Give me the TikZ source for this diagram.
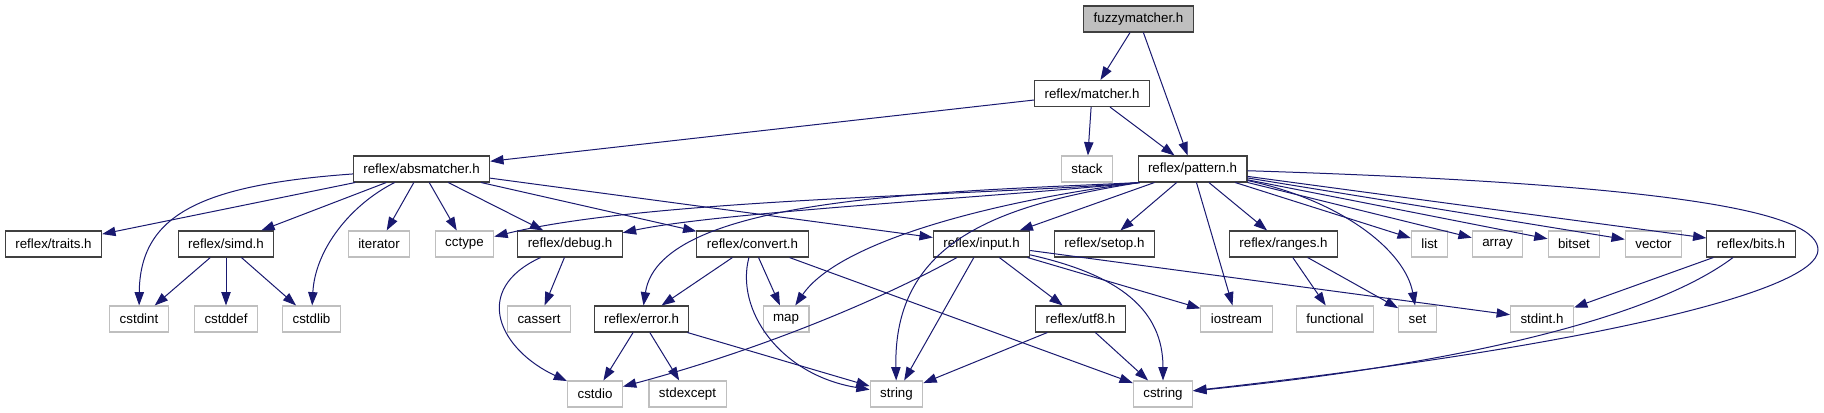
\documentclass[tikz,border=0pt]{standalone}
\usepackage{fontspec}
\usepackage{tikz}
\usetikzlibrary{arrows.meta,calc}
\newfontfamily\helvfont{Liberation Sans}
\definecolor{edgeblue}{RGB}{25,25,112}
\definecolor{rootfill}{RGB}{191,191,191}
\definecolor{extdraw}{RGB}{191,191,191}
\definecolor{docdraw}{RGB}{64,64,64}

\begin{document}
\begin{tikzpicture}[x=0.75pt,y=-0.75pt,
    every node/.style={font=\helvfont\fontsize{10}{12}\selectfont},
    filebox/.style={rectangle,inner xsep=7.5pt,inner ysep=0pt,minimum height=19.5pt,line width=0.8pt},
    hdr/.style={filebox,draw=docdraw,fill=white},
    ext/.style={filebox,draw=extdraw,fill=white},
    root/.style={filebox,draw=docdraw,fill=rootfill},
    dep/.style={draw=edgeblue,line width=0.75pt,-{Triangle[length=10pt,width=7pt]}}]
        \useasboundingbox[fill=white] (0,0) rectangle (1824,413);
        \node[root] (fuzzy) at (1138.5,19) {fuzzymatcher.h};
        \node[hdr] (matcher) at (1092,93.5) {reflex/matcher.h};
        \node[hdr] (absm) at (421.5,169) {reflex/absmatcher.h};
        \node[ext] (stack) at (1087,169) {stack};
        \node[hdr] (pattern) at (1192.5,169) {reflex/pattern.h};
        \node[hdr] (traits) at (53.5,244) {reflex/traits.h};
        \node[hdr] (simd) at (226,244) {reflex/simd.h};
        \node[ext] (iterator) at (379,244) {iterator};
        \node[ext] (cctype) at (464.5,244) {cctype};
        \node[hdr] (debug) at (570,244) {reflex/debug.h};
        \node[hdr] (convert) at (752.5,244) {reflex/convert.h};
        \node[hdr] (input) at (981.5,244) {reflex/input.h};
        \node[hdr] (setop) at (1104.5,244) {reflex/setop.h};
        \node[hdr] (ranges) at (1283.5,244) {reflex/ranges.h};
        \node[ext] (list) at (1429.5,244) {list};
        \node[ext] (array) at (1497.5,244) {array};
        \node[ext] (bitset) at (1574,244) {bitset};
        \node[ext] (vector) at (1653.5,244) {vector};
        \node[hdr] (bits) at (1751,244) {reflex/bits.h};
        \node[ext] (cstdint) at (139,319) {cstdint};
        \node[ext] (cstddef) at (226,319) {cstddef};
        \node[ext] (cstdlib) at (311.5,319) {cstdlib};
        \node[ext] (cassert) at (539,319) {cassert};
        \node[hdr] (error) at (641.5,319) {reflex/error.h};
        \node[ext] (map) at (786,319) {map};
        \node[hdr] (utf8) at (1080.5,319) {reflex/utf8.h};
        \node[ext] (iostream) at (1236.5,319) {iostream};
        \node[ext] (functional) at (1335,319) {functional};
        \node[ext] (set) at (1417.5,319) {set};
        \node[ext] (stdint) at (1542,319) {stdint.h};
        \node[ext] (cstdio) at (595,394) {cstdio};
        \node[ext] (stdexcept) at (687.5,394) {stdexcept};
        \node[ext] (string) at (896.5,394) {string};
        \node[ext] (cstring) at (1163,394) {cstring};
        \coordinate (farright) at (1818,250);

        \draw[dep] (fuzzy)--(matcher);
        \draw[dep] (fuzzy)--(pattern);
        \draw[dep] (matcher)--(absm);
        \draw[dep] (matcher)--(stack);
        \draw[dep] (matcher)--(pattern);

        \draw[dep] (absm)--(traits);
        \draw[dep] (absm) .. controls (200,185) and (140,215) .. (cstdint);
        \draw[dep] (absm)--(simd);
        \draw[dep] (absm) .. controls (350,205) and (315,250) .. (cstdlib);
        \draw[dep] (absm)--(iterator);
        \draw[dep] (absm)--(cctype);
        \draw[dep] (absm)--(debug);
        \draw[dep] (absm)--(convert);
        \draw[dep] (absm)--(input);

        \draw[dep] (simd)--(cstdint);
        \draw[dep] (simd)--(cstddef);
        \draw[dep] (simd)--(cstdlib);
        \draw[dep] (debug) .. controls (470,290) and (500,350) .. (cstdio);
        \draw[dep] (debug)--(cassert);
        \draw[dep] (convert)--(error);
        \draw[dep] (convert)--(map);
        \draw[dep] (convert) .. controls (735,310) and (780,375) .. (string);
        \draw[dep] (convert)--(cstring);

        \draw[dep] ([xshift=1.5pt]pattern.south west) .. controls (1000,195) and (650,198) .. (cctype);
        \draw[dep] ([xshift=1.5pt]pattern.south west) .. controls (1000,197) and (720,212) .. (debug);
        \draw[dep] ([xshift=1.5pt]pattern.south west) .. controls (950,192) and (660,195) .. (error);
        \draw[dep] ([xshift=1.5pt]pattern.south west) .. controls (1000,200) and (840,240) .. (map);
        \draw[dep] ([xshift=1.5pt]pattern.south west) .. controls (1000,205) and (893,240) .. (string);
        \draw[dep] (pattern)--(input);
        \draw[dep] (pattern)--(setop);
        \draw[dep] (pattern)--(iostream);
        \draw[dep] (pattern)--(ranges);
        \draw[dep] (pattern) .. controls (1340,200) and (1405,250) .. (set);
        \draw[dep] (pattern)--(list);
        \draw[dep] (pattern)--(array);
        \draw[dep] (pattern)--(bitset);
        \draw[dep] (pattern)--(vector);
        \draw[dep] (pattern)--(bits);
        \draw[dep] (pattern) .. controls (1700,185) and (1818,215) .. (farright) .. controls (1818,290) and (1600,345) .. (cstring);

        \draw[dep] (input) .. controls (880,300) and (760,350) .. (cstdio);
        \draw[dep] (input)--(string);
        \draw[dep] (input)--(utf8);
        \draw[dep] (input)--(iostream);
        \draw[dep] (input) .. controls (1120,275) and (1163,310) .. (cstring);
        \draw[dep] (input)--(stdint);

        \draw[dep] (error)--(cstdio);
        \draw[dep] (error)--(stdexcept);
        \draw[dep] (error)--(string);
        \draw[dep] (utf8)--(string);
        \draw[dep] (utf8)--(cstring);
        \draw[dep] (ranges)--(functional);
        \draw[dep] (ranges)--(set);
        \draw[dep] (bits)--(stdint);
        \draw[dep] (bits) .. controls (1650,320) and (1450,365) .. (cstring);
      \end{tikzpicture}
\end{document}
